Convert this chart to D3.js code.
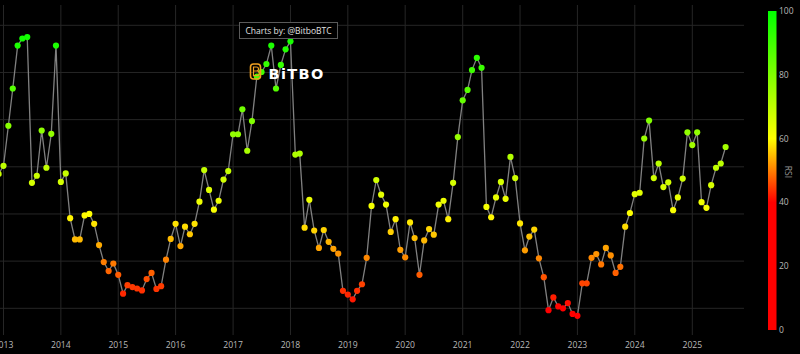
<!DOCTYPE html>
<meta charset="utf-8">
<script src="https://d3js.org/d3.v7.min.js"></script>
<style>
  body { margin: 0; background: #000; }
  text { font-family: "Open Sans", "DejaVu Sans", sans-serif; }
</style>
<div id="chart"></div>
<script>

// monthly RSI, first value is Dec 2012
var startMonth = "2012-12";
var rsi = [
  68.5,
  70.2, 78.7, 86.6, 95.7, 97.2, 97.5, 66.6, 68.1, 77.7, 69.8, 77.0, 95.7, // 2013
  66.8, 68.6, 59.1, 54.6, 54.6, 59.7, 60.0, 57.9, 53.4, 49.8, 47.9, 49.5, // 2014
  47.1, 43.1, 44.9, 44.5, 44.2, 43.8, 46.2, 47.5, 44.1, 44.7, 50.3, 54.7, // 2015
  57.9, 53.2, 57.3, 55.7, 57.9, 62.6, 69.3, 65.1, 60.9, 62.8, 67.3, 69.1, // 2016
  76.9, 76.9, 82.2, 73.4, 79.7, 89.1, 90.1, 91.8, 95.7, 86.6, 91.6, 94.9, // 2017
  96.6, 72.6, 72.8, 57.1, 63.0, 56.5, 52.8, 56.6, 54.1, 52.6, 51.6, 43.7, // 2018
  42.9, 41.9, 43.7, 45.1, 50.7, 61.7, 67.2, 64.1, 62.0, 56.2, 58.9, 52.4, // 2019
  50.8, 58.2, 54.9, 47.1, 54.4, 56.8, 55.6, 62.0, 62.8, 58.9, 66.6, 76.3, // 2020
  84.1, 86.3, 90.5, 93.1, 91.0, 61.5, 59.3, 63.5, 66.8, 63.2, 72.1, 67.6, // 2021
  58.0, 52.3, 55.2, 56.7, 50.6, 46.6, 39.6, 42.3, 40.4, 40.0, 41.1, 38.8, // 2022
  38.4, 45.3, 45.3, 50.7, 51.5, 49.3, 52.8, 51.2, 47.5, 48.8, 57.3, 60.2, // 2023
  64.2, 64.5, 76.0, 79.8, 67.6, 70.7, 65.7, 66.7, 60.8, 63.5, 67.5, 77.3, // 2024
  74.6, 77.3, 62.5, 61.3, 66.1, 69.8, 70.7, 74.2                          // 2025
];
var yearTicks = [2013, 2014, 2015, 2016, 2017, 2018, 2019, 2020, 2021, 2022, 2023, 2024, 2025];
var rsiGrid = [40, 50, 60, 70, 80, 90, 100];
var barTicks = [0, 20, 40, 60, 80, 100];
var annotationText = "Charts by: @BitboBTC";

var width = 800, height = 354;
var plot = {left: 0, right: 744, top: 5, bottom: 335};

var svg = d3.select("#chart").append("svg")
    .attr("width", width)
    .attr("height", height)
    .style("background", "#000");

var parseMonth = d3.utcParse("%Y-%m");
var t0 = parseMonth(startMonth);
var data = rsi.map(function(v, i) {
  return {date: d3.utcMonth.offset(t0, i), value: v};
});

var x = d3.scaleUtc()
    .domain([new Date(Date.UTC(2013, 0, 1)), new Date(Date.UTC(2025, 0, 1))])
    .range([3.5, 692.3]);
var y = d3.scaleLinear().domain([40, 100]).range([308.3, 25.3]);

var color = d3.scaleLinear()
    .domain([0, 40, 60, 100])
    .range(["#ff0000", "#ff0000", "#ffff00", "#00ff00"]);

// grid
svg.append("g").selectAll("line")
  .data(rsiGrid)
  .enter().append("line")
    .attr("x1", plot.left).attr("x2", plot.right)
    .attr("y1", function(d) { return y(d); })
    .attr("y2", function(d) { return y(d); })
    .attr("stroke", "#262626");

svg.append("g").selectAll("line")
  .data(yearTicks)
  .enter().append("line")
    .attr("x1", function(d) { return x(new Date(Date.UTC(d, 0, 1))); })
    .attr("x2", function(d) { return x(new Date(Date.UTC(d, 0, 1))); })
    .attr("y1", plot.top).attr("y2", plot.bottom)
    .attr("stroke", "#262626");

// x axis labels
svg.append("g").selectAll("text")
  .data(yearTicks)
  .enter().append("text")
    .attr("x", function(d) { return x(new Date(Date.UTC(d, 0, 1))); })
    .attr("y", 347.5)
    .attr("text-anchor", "middle")
    .attr("fill", "#b8b8b8")
    .style("font-size", "8.6px")
    .text(function(d) { return d; });

// line + points
svg.append("defs").append("clipPath").attr("id", "clip")
  .append("rect").attr("x", plot.left).attr("y", plot.top)
  .attr("width", plot.right - plot.left).attr("height", plot.bottom - plot.top);

var g = svg.append("g").attr("clip-path", "url(#clip)");

var line = d3.line()
    .x(function(d) { return x(d.date); })
    .y(function(d) { return y(d.value); });

g.append("path")
    .datum(data)
    .attr("d", line)
    .attr("fill", "none")
    .attr("stroke", "#808080")
    .attr("stroke-width", 1.3);

g.selectAll("circle")
  .data(data)
  .enter().append("circle")
    .attr("cx", function(d) { return x(d.date); })
    .attr("cy", function(d) { return y(d.value); })
    .attr("r", 3.1)
    .attr("fill", function(d) { return color(d.value); });

// annotation
var ann = svg.append("g");
ann.append("rect")
    .attr("x", 239.5).attr("y", 22.5).attr("width", 98).attr("height", 16)
    .attr("fill", "#000").attr("stroke", "#5a5a5a");
ann.append("text")
    .attr("x", 288.5).attr("y", 33.8)
    .attr("text-anchor", "middle")
    .attr("fill", "#e0e0e0")
    .style("font-size", "8.5px")
    .text(annotationText);

// logo
var logo = svg.append("g").attr("transform", "translate(250,63)");
logo.append("rect")
    .attr("x", 0.5).attr("y", 1).attr("width", 10).attr("height", 15).attr("rx", 3)
    .attr("fill", "none").attr("stroke", "#f0a020").attr("stroke-width", 1.6);
logo.append("path")
    .attr("d", "M3.5,4 h3 a2,2 0 0 1 0,4 h-3 z M3.5,8 h3.5 a2.3,2.3 0 0 1 0,4.6 h-3.5 z")
    .attr("fill", "none").attr("stroke", "#f0a020").attr("stroke-width", 1.2);
svg.append("text")
    .attr("x", 268.5).attr("y", 79)
    .attr("fill", "#ffffff")
    .style("font-family", "'DejaVu Sans', sans-serif")
    .style("font-weight", "bold")
    .style("font-size", "14.5px")
    .style("letter-spacing", "1.4px")
    .text("BiTBO");

// colorbar
var bar = {x: 768, w: 8.5, top: 11, bottom: 330};
var cb = d3.scaleLinear().domain([0, 100]).range([bar.bottom, bar.top]);

var grad = svg.select("defs").append("linearGradient")
    .attr("id", "rsiGrad")
    .attr("x1", 0).attr("y1", 1).attr("x2", 0).attr("y2", 0);
color.domain().forEach(function(v) {
  grad.append("stop").attr("offset", v / 100).attr("stop-color", color(v));
});
svg.append("rect")
    .attr("x", bar.x).attr("y", bar.top)
    .attr("width", bar.w).attr("height", bar.bottom - bar.top)
    .attr("fill", "url(#rsiGrad)");

svg.append("g").selectAll("text")
  .data(barTicks)
  .enter().append("text")
    .attr("x", 779)
    .attr("y", function(d) { return cb(d) + 3; })
    .attr("fill", "#b8b8b8")
    .style("font-size", "8.5px")
    .text(function(d) { return d; });

svg.append("text")
    .attr("transform", "translate(784.5,172) rotate(90)")
    .attr("text-anchor", "middle")
    .attr("fill", "#9a9a9a")
    .style("font-size", "8.5px")
    .text("RSI");

</script>
